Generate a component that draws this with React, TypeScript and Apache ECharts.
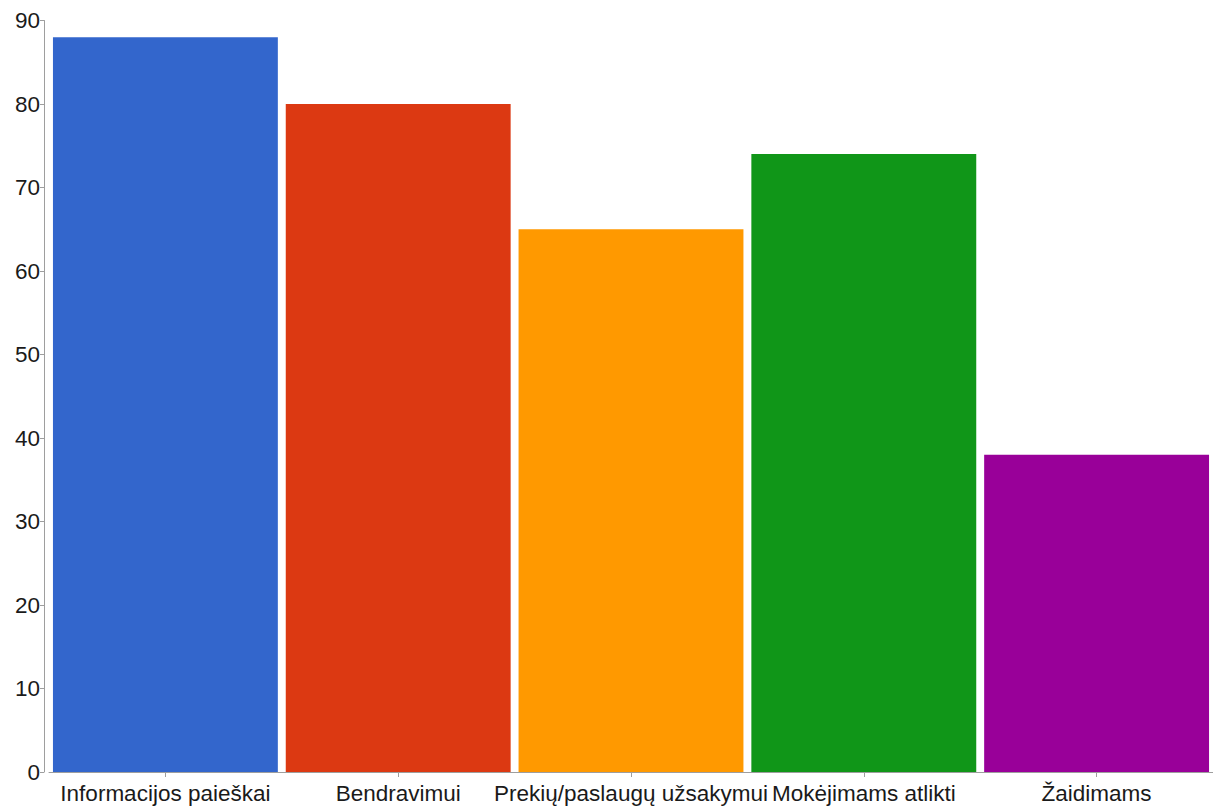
import React, { useEffect, useRef } from "react";
import * as echarts from "echarts";

const categories = [
  "Informacijos paieškai",
  "Bendravimui",
  "Prekių/paslaugų užsakymui",
  "Mokėjimams atlikti",
  "Žaidimams",
];
const values = [88, 80, 65, 74, 38];
const colors = ["#3366CC", "#DC3912", "#FF9900", "#109618", "#990099"];
const yTicks = { min: 0, max: 90, interval: 10 };

export default function App() {
  const ref = useRef<HTMLDivElement>(null);

  useEffect(() => {
    document.body.style.margin = "0";
    const chart = echarts.init(ref.current!, null, { renderer: "svg" });
    const font = "'Liberation Sans', Arial, sans-serif";
    chart.setOption({
      animation: false,
      grid: { left: 49, right: -1, top: 20.5, bottom: 40, containLabel: false },
      xAxis: {
        type: "category",
        data: categories,
        axisLine: { show: true, lineStyle: { color: "#9e9e9e", width: 1 } },
        axisTick: { show: true, alignWithLabel: true, length: 5, lineStyle: { color: "#9e9e9e" } },
        axisLabel: {
          color: "#1a1a1a",
          fontSize: 22.5,
          fontFamily: font,
          margin: 10,
          interval: 0,
        },
      },
      yAxis: {
        type: "value",
        min: yTicks.min,
        max: yTicks.max,
        interval: yTicks.interval,
        offset: 5,
        splitLine: { show: false },
        axisLine: { show: true, lineStyle: { color: "#9e9e9e", width: 1 } },
        axisTick: { show: true, length: 4, lineStyle: { color: "#9e9e9e" } },
        axisLabel: { color: "#1a1a1a", fontSize: 22.5, fontFamily: font, margin: 4 },
      },
      series: [
        {
          type: "bar",
          data: values.map((v, i) => ({ value: v, itemStyle: { color: colors[i] } })),
          barCategoryGap: "3.4%",
        },
      ],
    });
    return () => chart.dispose();
  }, []);

  return (
    <div
      ref={ref}
      style={{ position: "absolute", left: 0, top: 0, width: 1213, height: 812, background: "#fff" }}
    />
  );
}
